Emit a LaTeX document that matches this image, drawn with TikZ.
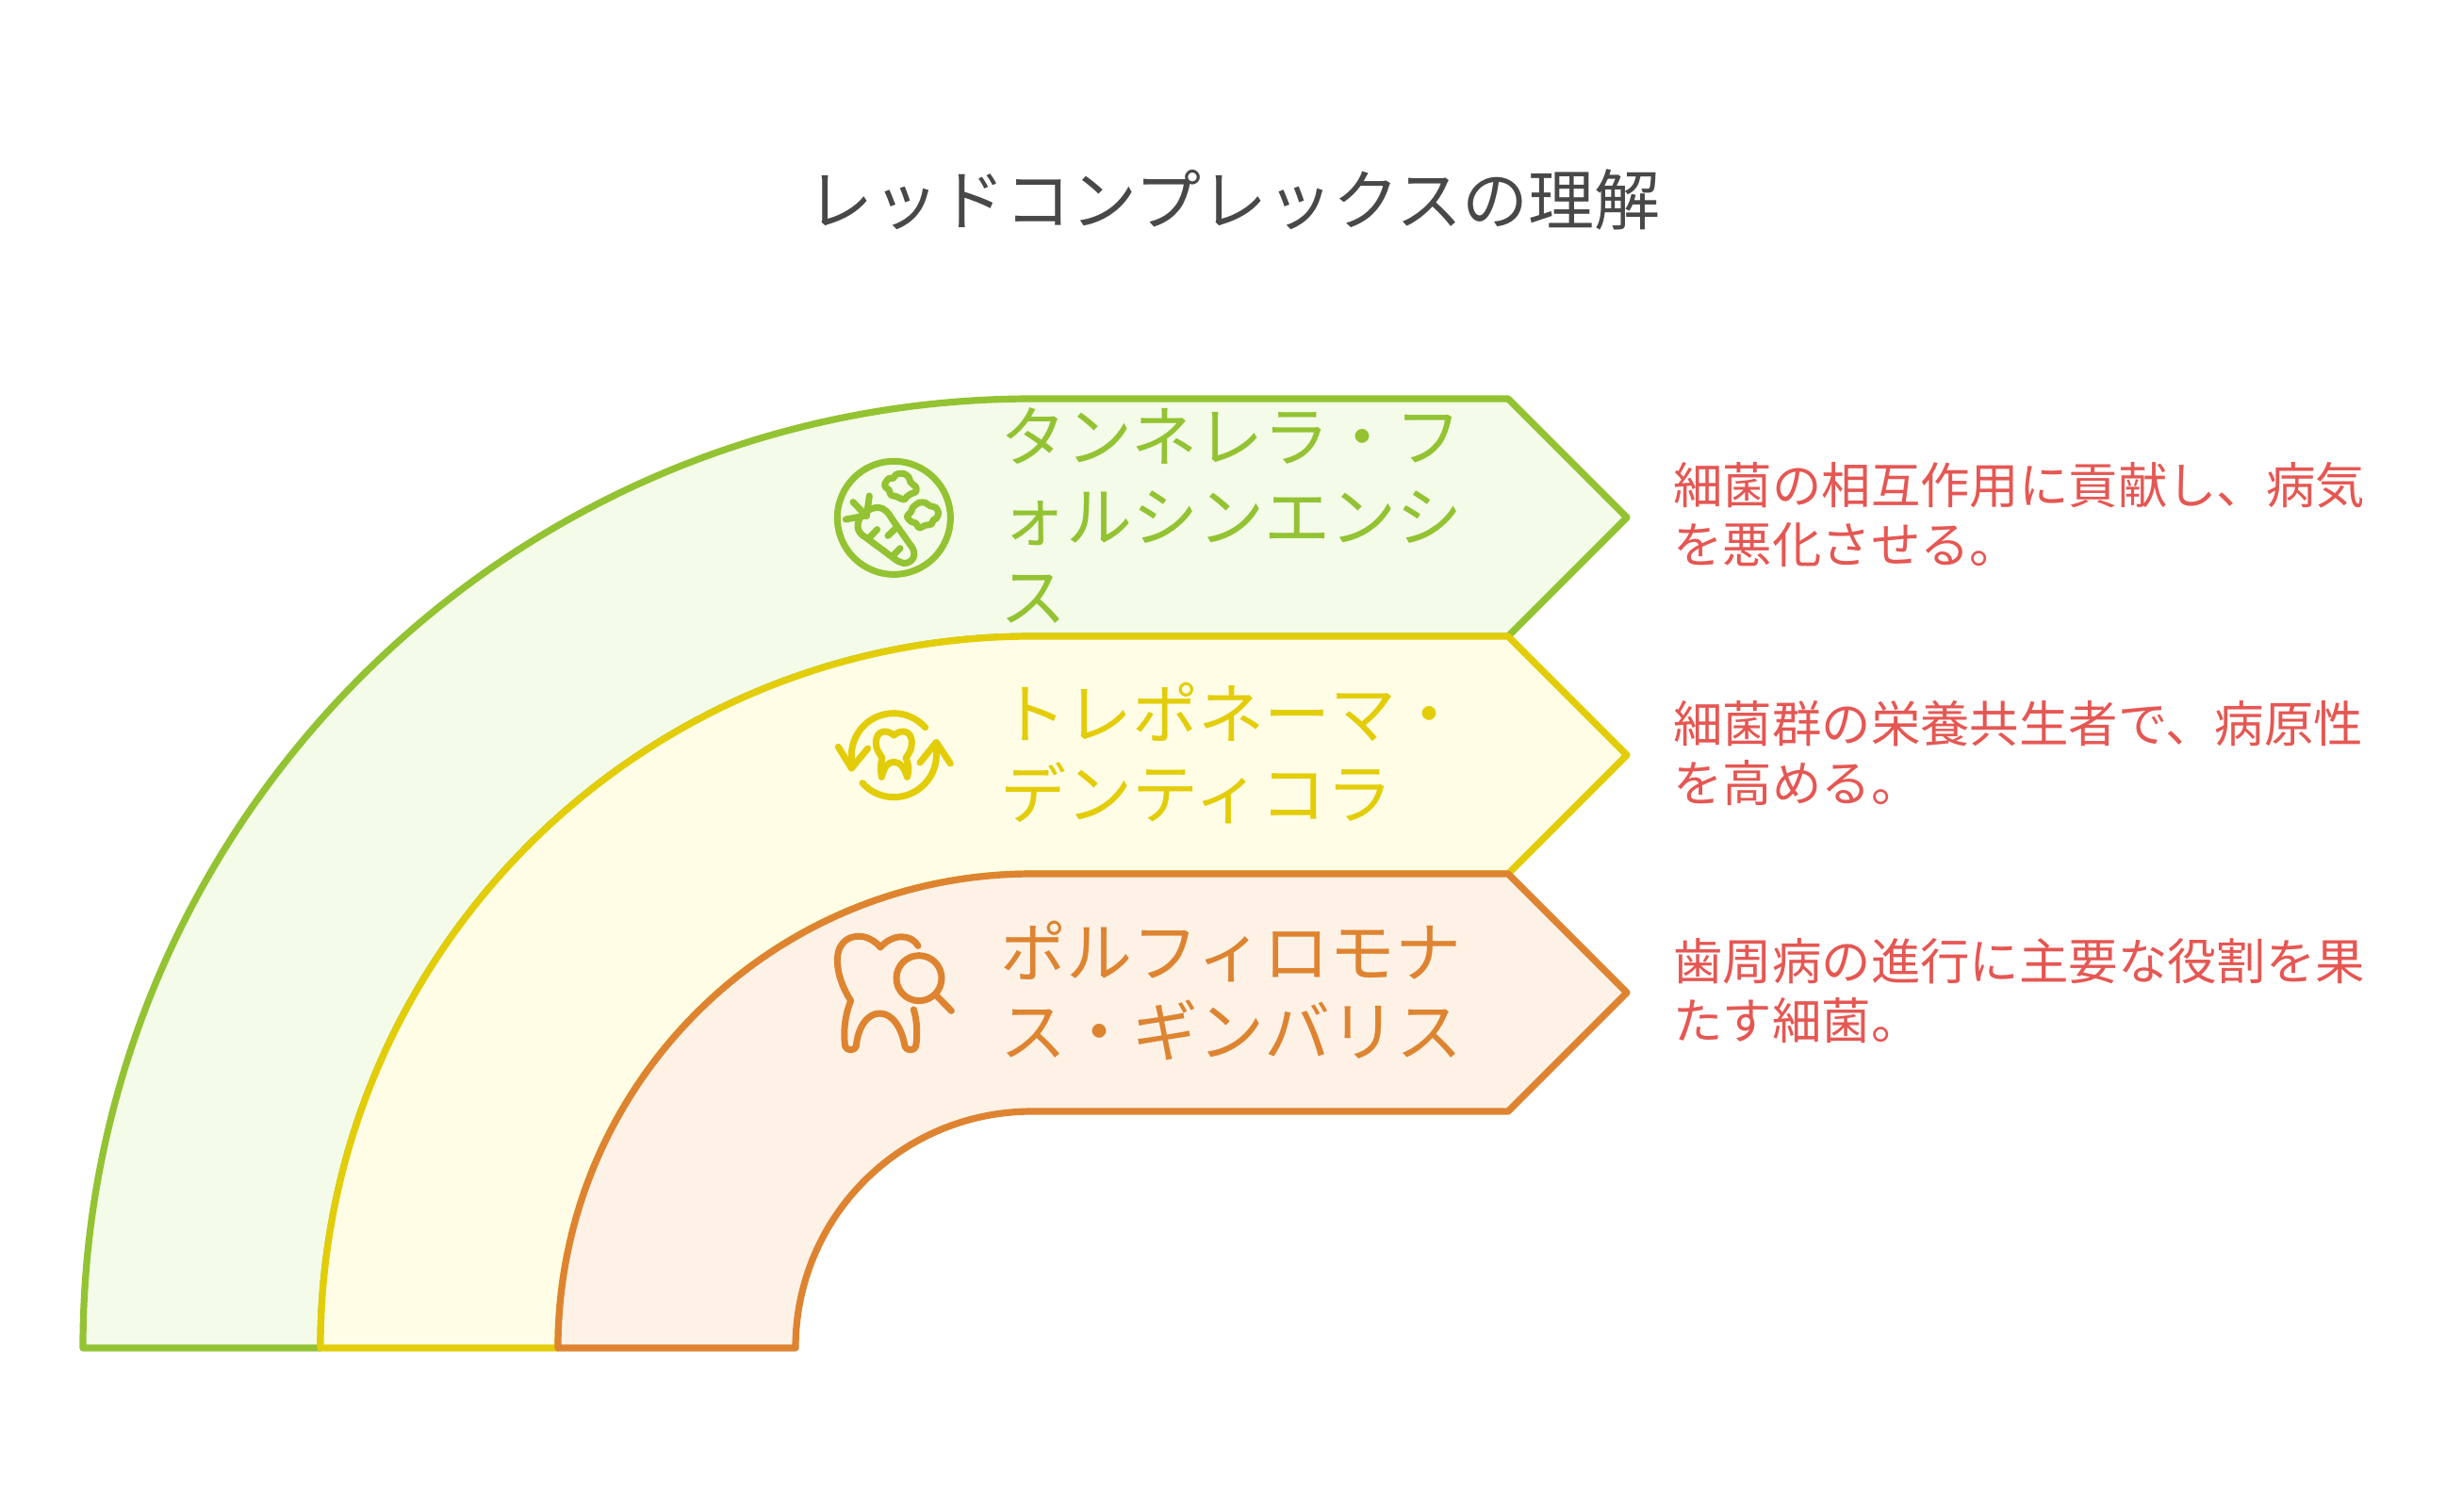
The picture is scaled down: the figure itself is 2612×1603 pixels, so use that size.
\documentclass[tikz,border=0pt]{standalone}
\usepackage{fontspec}
\newfontfamily\cjk{Noto Sans CJK JP}
\definecolor{grn}{HTML}{93C332}
\definecolor{grnf}{HTML}{F4FBE8}
\definecolor{yel}{HTML}{E3CD08}
\definecolor{yelf}{HTML}{FFFDE5}
\definecolor{org}{HTML}{DE8431}
\definecolor{orgf}{HTML}{FEF2E6}
\definecolor{redt}{HTML}{E55753}
\definecolor{ttl}{HTML}{484848}
\tikzset{
  band/.style={line width=3.6pt,line join=round},
  icon/.style={line width=3.5pt,line cap=round,line join=round},
  iconscope/.style={x=0.16667pt,y=-0.16667pt},
  labeltext/.style={anchor=west,align=left,inner sep=0,font=\cjk\fontsize{35}{42.4}\selectfont},
  desctext/.style={anchor=west,align=left,inner sep=0,text=redt,font=\cjk\fontsize{26.2}{31.8}\selectfont},
  titletext/.style={inner sep=0,text=ttl,font=\cjk\fontsize{35}{42.4}\selectfont}
}
\begin{document}
\begin{tikzpicture}[x=0.5pt,y=-0.5pt]
\useasboundingbox[fill=white] (0,0) rectangle (2612,1603);
\draw[band,draw=grn,fill=grnf] (88,1430) .. controls (88,874) and (539,423) .. (1095,423) -- (1600,423) -- (1726,549) -- (1600,675) -- (1095,675) .. controls (678,675) and (340,1013) .. (340,1430) -- cycle;
\draw[band,draw=yel,fill=yelf] (340,1430) .. controls (340,1013) and (678,675) .. (1095,675) -- (1600,675) -- (1726,801) -- (1600,927) -- (1095,927) .. controls (817,927) and (592,1152) .. (592,1430) -- cycle;
\draw[band,draw=org,fill=orgf] (592,1430) .. controls (592,1152) and (817,927) .. (1095,927) -- (1600,927) -- (1726,1053) -- (1600,1179) -- (1095,1179) .. controls (956,1179) and (844,1291) .. (844,1430) -- cycle;

\node[titletext] (title) at (1309,212) {レッドコンプレックスの理解};

\node[labeltext,text=grn] (lab1) at (1061,547) {タンネレラ・フ\\ォルシンエンシ\\ス};
\node[labeltext,text=yel] (lab2) at (1061,799) {トレポネーマ・\\デンティコラ};
\node[labeltext,text=org] (lab3) at (1061,1051) {ポルフィロモナ\\ス・ギンバリス};

\node[desctext] (desc1) at (1775,546) {細菌の相互作用に貢献し、病気\\を悪化させる。};
\node[desctext] (desc2) at (1775,799) {細菌群の栄養共生者で、病原性\\を高める。};
\node[desctext] (desc3) at (1775,1051) {歯周病の進行に主要な役割を果\\たす細菌。};

% green icon: carrot and florets
\begin{scope}[shift={(860,470)},iconscope,icon,draw=grn]
\draw (265,238) circle[radius=180];
\draw (150,265) .. controls (150,225) and (190,205) .. (215,205) .. controls (235,205) and (250,225) .. (258,240) -- (325,335) .. controls (340,365) and (315,385) .. (295,382) .. controls (285,380) and (275,375) .. (265,367) -- (175,300) .. controls (160,292) and (150,280) .. (150,265) -- cycle;
\draw (212,275) -- (188,300);
\draw (270,272) -- (246,295);
\draw (285,335) -- (265,355);
\draw (135,188) -- (178,232);
\draw (187,168) -- (178,232);
\draw (112,243) -- (170,232);
\draw plot[smooth cycle,tension=0.55] coordinates {(237,128) (250,112) (262,113) (272,100) (295,97) (312,108) (318,125) (335,140) (335,155) (318,162) (305,172) (297,180) (272,170) (255,165) (250,150) (238,140)};
\draw plot[smooth cycle,tension=0.55] coordinates {(307,235) (320,218) (325,205) (345,190) (365,190) (380,200) (398,205) (407,222) (400,240) (390,245) (385,258) (365,262) (345,270) (335,255) (320,250)};
\end{scope}

% yellow icon: tooth with two arrows
\begin{scope}[shift={(860,730)},iconscope,icon,draw=yel]
\draw (365,125) .. controls (340,98) and (305,80) .. (265,80) .. controls (190,80) and (130,140) .. (130,215) -- (130,255);
\draw (88,187) -- (130,255) -- (182,192);
\draw (165,302) .. controls (190,330) and (225,347) .. (265,347) .. controls (340,347) and (400,285) .. (400,215) -- (400,175);
\draw (348,237) -- (400,172) -- (445,240);
\draw (265,150) .. controls (245,132) and (208,130) .. (208,175) .. controls (208,195) and (220,210) .. (228,222) .. controls (222,240) and (222,265) .. (226,283) .. controls (235,250) and (245,235) .. (265,235) .. controls (285,235) and (300,255) .. (307,283) .. controls (315,265) and (312,240) .. (303,222) .. controls (312,210) and (322,195) .. (322,175) .. controls (322,130) and (285,132) .. (265,150) -- cycle;
\end{scope}

% orange icon: tooth and magnifier
\begin{scope}[shift={(860,970)},iconscope,icon,draw=org]
\draw (342,100) .. controls (320,62) and (262,60) .. (222,105) .. controls (190,65) and (130,55) .. (100,95) .. controls (75,125) and (80,200) .. (128,275) .. controls (105,330) and (105,390) .. (110,420) .. controls (115,435) and (140,435) .. (145,420) .. controls (150,360) and (180,315) .. (220,315) .. controls (260,315) and (290,360) .. (300,420) .. controls (305,435) and (330,435) .. (335,420) .. controls (340,385) and (340,340) .. (328,303);
\draw (345,203) circle[radius=72];
\draw (400,258) -- (448,307);
\end{scope}
\end{tikzpicture}
\end{document}
